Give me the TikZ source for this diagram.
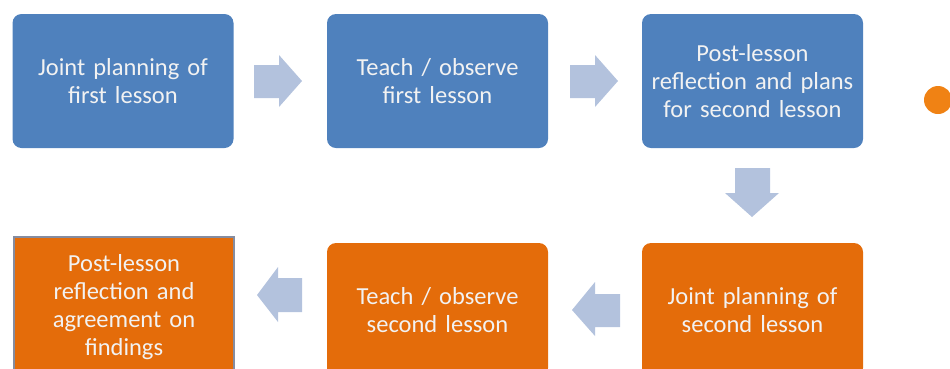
\documentclass[tikz,border=0pt]{standalone}
\usepackage{fontspec}
\setmainfont{Carlito}
\definecolor{boxblue}{HTML}{4F81BD}
\definecolor{boxorange}{HTML}{E46C0A}
\definecolor{arrowblue}{HTML}{B3C2DD}
\definecolor{dotorange}{HTML}{F08214}
\definecolor{selgray}{HTML}{858CA0}
\definecolor{txtwhite}{HTML}{F2F2F2}
\tikzset{
  stepbox/.style={rounded corners=9pt, minimum width=221pt, minimum height=134pt,
    inner sep=0pt, text width=215pt, align=center, text=txtwhite,
    font=\fontsize{24.5}{28}\selectfont},
  bluebox/.style={stepbox, fill=boxblue},
  orangebox/.style={stepbox, fill=boxorange},
  selbox/.style={stepbox, rounded corners=0pt, fill=boxorange, draw=selgray, line width=1.8pt},
  flowarrow/.style={fill=arrowblue, draw=none},
}
\begin{document}
\begin{tikzpicture}[x=1pt,y=-1pt]
\useasboundingbox (0,0) rectangle (950,368);
\clip (0,0) rectangle (950,368);
\node[bluebox] (b1) at (123,81) {Joint planning of\\first lesson};
\node[bluebox] (b2) at (437.5,81) {Teach / observe\\first lesson};
\node[bluebox] (b3) at (752.5,81) {Post-lesson\\reflection and plans\\for second lesson};
\node[orangebox] (b4) at (752.5,310) {Joint planning of\\second lesson};
\node[orangebox] (b5) at (437.5,310) {Teach / observe\\second lesson};
\node[selbox, minimum width=220pt, minimum height=140pt] (b6) at (124,307) {Post-lesson\\reflection and\\agreement on\\findings};
% right arrows
\fill[flowarrow] (254,65) -- (279,65) -- (279,55) -- (302,81) -- (279,107) -- (279,98) -- (254,98) -- cycle;
\fill[flowarrow] (570,65) -- (595,65) -- (595,55) -- (618,81) -- (595,107) -- (595,98) -- (570,98) -- cycle;
% down arrow
\fill[flowarrow] (735,168) -- (770,168) -- (770,193) -- (779,193) -- (752,217) -- (725,193) -- (735,193) -- cycle;
% left arrows
\fill[flowarrow] (620,294) -- (595,294) -- (595,282) -- (572,310) -- (595,336) -- (595,327) -- (620,327) -- cycle;
\fill[flowarrow] (302,278) -- (278,278) -- (278,267) -- (257,295) -- (278,322) -- (278,312) -- (302,312) -- cycle;
\node[circle, fill=dotorange, minimum size=28pt, inner sep=0pt] (dot) at (938,100) {};
\end{tikzpicture}
\end{document}
